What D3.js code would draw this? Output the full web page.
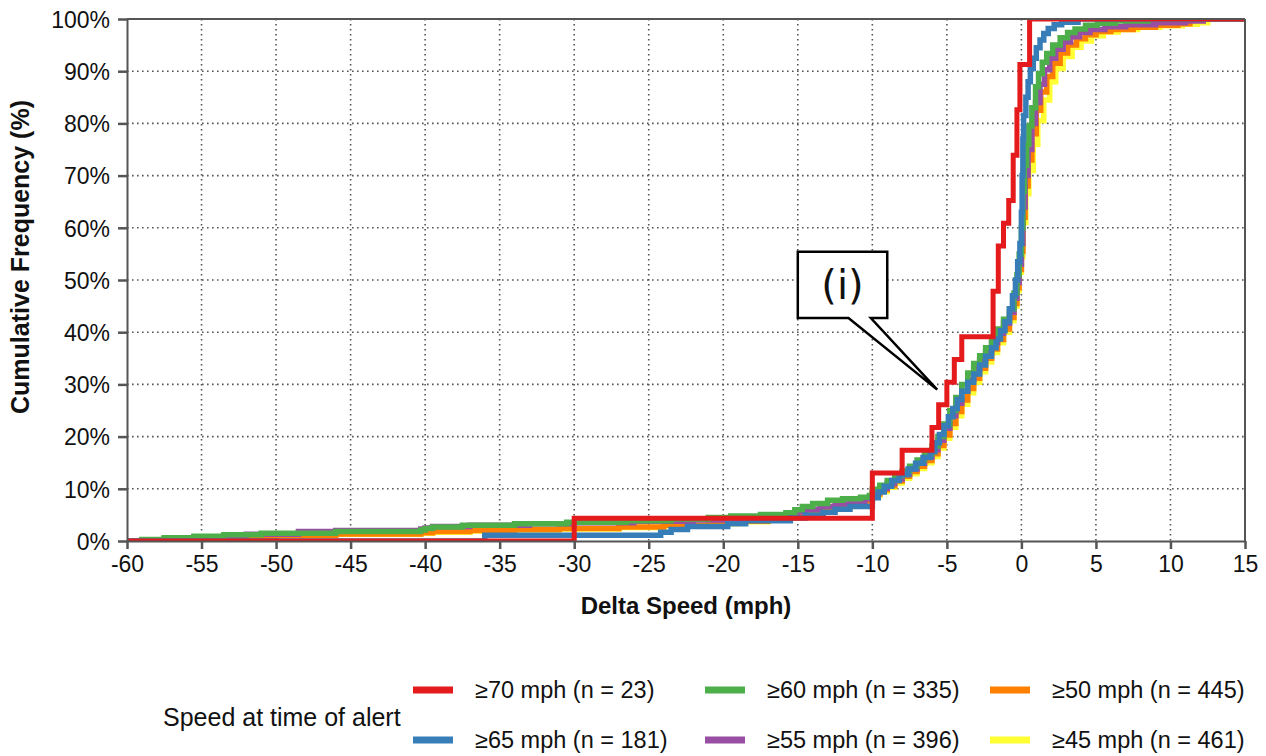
<!DOCTYPE html>
<html><head><meta charset="utf-8">
<script src="https://cdn.jsdelivr.net/npm/d3@7"></script>
<style>
html,body{margin:0;padding:0;background:#fff;}
svg text{font-family:"Liberation Sans",Arial,sans-serif;fill:#111;}
</style></head>
<body><svg id="chart" width="1266" height="756"></svg>
<script>
// ---------- data (x = delta speed mph, y = cumulative %) ----------
const xTicks = [-60,-55,-50,-45,-40,-35,-30,-25,-20,-15,-10,-5,0,5,10,15];
const yTicks = [0,10,20,30,40,50,60,70,80,90,100];

const s70 = [[-60,0],[-30,4.35],[-10,13.04],[-8,17.39],[-6,21.74],[-5.55,26.09],[-5,30.43],[-4.5,34.78],[-4,39.13],[-1.9,47.83],[-1.55,56.52],[-1.2,60.87],[-0.85,65.22],[-0.55,73.91],[-0.3,82.61],[-0.1,91.3],[0.55,100],[15,100]];

const s65 = [[-60,0],[-36,1.1],[-24.2,1.7],[-23.5,2.2],[-22.4,2.8],[-19.7,3.3],[-18.5,3.9],[-15.5,4.4],[-14.5,5.0],[-13.3,5.5],[-12.5,6.1],[-11.5,6.6],[-10,8.3],[-9.6,9.4],[-9.2,10.5],[-8.7,11.6],[-8.2,12.7],[-7.6,13.8],[-7.1,14.9],[-6.6,16.0],[-6.1,17.1],[-5.8,18.8],[-5.5,20.4],[-5.2,22.1],[-4.9,23.8],[-4.6,25.4],[-4.3,27.1],[-4.0,28.7],[-3.6,30.4],[-3.2,32.0],[-2.8,33.7],[-2.4,35.4],[-2.0,37.0],[-1.7,38.7],[-1.4,40.3],[-1.1,42],[-0.8,44.5],[-0.6,47],[-0.4,50],[-0.25,53.5],[-0.1,57],[0,63],[0.05,70],[0.1,77],[0.15,81.5],[0.3,85],[0.45,88],[0.6,90.5],[0.8,92.5],[1.0,94.5],[1.25,96],[1.5,97.2],[1.8,98.2],[2.2,98.9],[2.7,99.4],[3.8,100],[15,100]];

const s60 = [[-60,0],[-59,0.3],[-57.5,0.6],[-55.5,0.9],[-53.5,1.2],[-51,1.5],[-46,1.8],[-40.3,2.1],[-40,2.4],[-39.5,2.7],[-37.5,3.0],[-34,3.3],[-30.5,3.6],[-26.5,3.9],[-23.5,4.2],[-21,4.5],[-19.5,4.8],[-17.5,5.1],[-15.8,5.4],[-15.2,6.0],[-14.7,6.6],[-14,7.2],[-13,7.8],[-12,8.1],[-10.8,8.4],[-10.2,8.7],[-10,9.9],[-9.5,10.7],[-9,11.6],[-8.5,12.5],[-8,13.4],[-7.5,14.3],[-7,15.5],[-6.5,16.7],[-6,18.2],[-5.6,20],[-5.2,22.4],[-4.8,25],[-4.4,27.5],[-4,30],[-3.6,32.2],[-3.2,34],[-2.8,35.5],[-2.4,37],[-2,38.8],[-1.6,40.6],[-1.2,42.5],[-0.8,44.5],[-0.5,47.5],[-0.3,51],[-0.15,55],[0,60],[0.1,67],[0.2,72],[0.35,76],[0.5,79.5],[0.7,83],[0.95,87],[1.15,89.5],[1.4,91.7],[1.7,93.4],[2.1,95],[2.6,96.4],[3.1,97.4],[3.6,98.1],[4.3,98.8],[5.1,99.2],[6.3,99.6],[8.5,100],[15,100]];

const s55 = [[-60,0],[-59,0.25],[-57.5,0.5],[-55.5,0.8],[-53.5,1.0],[-52,1.3],[-48.5,1.8],[-46,2.0],[-40.3,2.3],[-40,2.5],[-39.5,2.8],[-37,3.0],[-33,3.3],[-30,3.5],[-26,3.8],[-22,4.0],[-19.5,4.3],[-17,4.6],[-15.5,5.0],[-15,5.6],[-14.5,6.1],[-13.5,6.6],[-12.5,7.1],[-11.5,7.6],[-10.5,8.1],[-10,9.3],[-9.5,10.1],[-9,11],[-8.5,11.9],[-8,12.8],[-7.5,13.8],[-7,14.9],[-6.5,16.1],[-6,17.5],[-5.6,19.3],[-5.2,21.6],[-4.8,24],[-4.4,26.4],[-4,28.8],[-3.6,31],[-3.2,33],[-2.8,34.7],[-2.4,36.3],[-2,38],[-1.6,39.8],[-1.2,41.7],[-0.8,43.8],[-0.5,46.5],[-0.3,49.5],[-0.15,53],[0,57],[0.1,64],[0.25,70],[0.45,75],[0.7,80],[0.95,84],[1.25,87.5],[1.55,90.3],[1.9,92.5],[2.3,94.2],[2.8,95.6],[3.3,96.6],[3.9,97.4],[4.6,98],[5.6,98.5],[7,98.9],[9,99.3],[11,99.6],[12.2,100],[15,100]];

const s50 = [[-60,0],[-59,0.2],[-57.5,0.45],[-55.5,0.7],[-53,0.9],[-50,1.1],[-46,1.35],[-40.3,1.6],[-39.5,1.8],[-37,2.0],[-34,2.2],[-31,2.4],[-27,2.7],[-24,3.0],[-21,3.4],[-19,3.8],[-17,4.3],[-15.5,4.7],[-15,5.3],[-14.3,5.8],[-13.3,6.3],[-12.3,6.8],[-11.3,7.3],[-10.4,7.8],[-10,9.0],[-9.5,9.8],[-9,10.6],[-8.5,11.5],[-8,12.4],[-7.5,13.3],[-7,14.3],[-6.5,15.4],[-6,16.7],[-5.6,18.3],[-5.2,20.3],[-4.8,22.5],[-4.4,24.8],[-4,27],[-3.6,29.2],[-3.2,31.2],[-2.8,33.1],[-2.4,35],[-2,36.8],[-1.6,38.6],[-1.2,40.6],[-0.8,42.8],[-0.5,45.5],[-0.3,48.5],[-0.15,52],[0,55.5],[0.1,62],[0.25,68],[0.45,73],[0.7,78],[1.0,82.5],[1.3,86],[1.7,89],[2.1,91.5],[2.6,93.5],[3.1,95],[3.7,96.2],[4.3,97],[5,97.6],[6,98],[7.5,98.4],[9,98.8],[10.5,99.1],[11.3,100],[15,100]];

const s45 = [[-60,0],[-59,0.2],[-57.5,0.4],[-55.5,0.65],[-53,0.85],[-50,1.05],[-46,1.3],[-40.3,1.5],[-39.5,1.7],[-37,1.9],[-34,2.1],[-31,2.3],[-27,2.6],[-24,2.9],[-21,3.3],[-19,3.7],[-17,4.1],[-15.5,4.5],[-15,5.1],[-14.3,5.6],[-13.3,6.1],[-12.3,6.6],[-11.3,7.1],[-10.4,7.6],[-10,8.7],[-9.5,9.5],[-9,10.3],[-8.5,11.1],[-8,12],[-7.5,12.9],[-7,13.9],[-6.5,15],[-6,16.2],[-5.6,17.8],[-5.2,19.7],[-4.8,21.8],[-4.4,24],[-4,26.2],[-3.6,28.4],[-3.2,30.4],[-2.8,32.4],[-2.4,34.3],[-2,36.1],[-1.6,38],[-1.2,40],[-0.8,42.2],[-0.5,45],[-0.3,48],[-0.15,51.5],[0,54.5],[0.1,61],[0.3,66.5],[0.5,71],[0.8,76],[1.1,80.5],[1.5,84.5],[1.9,88],[2.3,90.5],[2.8,92.8],[3.4,94.6],[4.0,95.8],[4.7,96.8],[5.5,97.5],[6.5,98],[7.8,98.4],[9.3,98.7],[10.8,99],[11.8,99.3],[12.5,100],[15,100]];

const seriesNames = ["\u226570 mph (n = 23)","\u226565 mph (n = 181)","\u226560 mph (n = 335)","\u226555 mph (n = 396)","\u226550 mph (n = 445)","\u226545 mph (n = 461)"];
const seriesData = [s70, s65, s60, s55, s50, s45];
const seriesColors = ["#e41a1c","#377eb8","#4daf4a","#984ea3","#ff7f00","#ffff33"];
const drawOrder = [5,4,3,2,1,0];

const calloutLabel = "(i)";
const calloutTip = [-5.65, 29];
const calloutBox = [-15, -9, 42.7, 55.4];   // x0, x1, y0, y1 in data units
const calloutBase = [-11.6, -10.1];

// ---------- chart ----------
const svg = d3.select("#chart");
const L = 127, R = 1245, T = 19, B = 541;
const x = d3.scaleLinear().domain([-60,15]).range([L,R]);
const y = d3.scaleLinear().domain([0,100]).range([B,T]);

// grid
const grid = svg.append("g");
grid.selectAll("line.v").data(xTicks.slice(1,-1)).join("line")
  .attr("x1",d=>x(d)).attr("x2",d=>x(d)).attr("y1",T).attr("y2",B)
  .attr("stroke","#555").attr("stroke-width",1.6).attr("stroke-dasharray","1.6,3.4");
grid.selectAll("line.h").data(yTicks.slice(1,-1)).join("line")
  .attr("y1",d=>y(d)).attr("y2",d=>y(d)).attr("x1",L).attr("x2",R)
  .attr("stroke","#555").attr("stroke-width",1.6).attr("stroke-dasharray","1.6,3.4");

// clip
svg.append("clipPath").attr("id","clip").append("rect")
  .attr("x",L).attr("y",T).attr("width",R-L).attr("height",B-T);

const line = d3.line().x(d=>x(d[0])).y(d=>y(d[1])).curve(d3.curveStepAfter);
const lines = svg.append("g").attr("clip-path","url(#clip)");
drawOrder.forEach(i=>{
  lines.append("path").attr("d",line(seriesData[i]))
    .attr("fill","none").attr("stroke",seriesColors[i])
    .attr("stroke-width", i===0 ? 5 : 5.5)
    .attr("stroke-linejoin","miter");
});

// frame
svg.append("line").attr("x1",L).attr("x2",R).attr("y1",T).attr("y2",T).attr("stroke","#555").attr("stroke-width",2);
svg.append("line").attr("x1",R).attr("x2",R).attr("y1",T).attr("y2",B).attr("stroke","#555").attr("stroke-width",2);

// axes
const yAxis = svg.append("g").attr("transform",`translate(${L},0)`)
  .call(d3.axisLeft(y).tickValues(yTicks).tickFormat(d=>d+"%").tickSize(9).tickPadding(8).tickSizeOuter(0));
const xAxis = svg.append("g").attr("transform",`translate(0,${B})`)
  .call(d3.axisBottom(x).tickValues(xTicks).tickFormat(d=>String(d)).tickSize(8).tickPadding(6).tickSizeOuter(0));
[yAxis,xAxis].forEach(a=>{
  a.select(".domain").attr("stroke","#555").attr("stroke-width",2);
  a.selectAll(".tick line").attr("stroke","#555").attr("stroke-width",2.5);
  a.selectAll(".tick text").attr("fill","#111").style("font-size","23px").style("font-family","Liberation Sans, Arial, sans-serif");
});
yAxis.selectAll(".tick text").attr("dy","0.36em");
xAxis.selectAll(".tick text").attr("dy","0.75em");

// axis titles
svg.append("text").attr("x",(L+R)/2).attr("y",614).attr("text-anchor","middle")
  .style("font-size","24px").style("font-weight","bold").text("Delta Speed (mph)");
svg.append("text").attr("transform",`translate(29,${(T+B)/2 - 23}) rotate(-90)`).attr("text-anchor","middle")
  .style("font-size","25px").style("font-weight","bold").text("Cumulative Frequency (%)");

// callout
const bx0 = x(calloutBox[0]), bx1 = x(calloutBox[1]), by0 = y(calloutBox[3]), by1 = y(calloutBox[2]);
const callPath = [[bx0,by0],[bx1,by0],[bx1,by1],[x(calloutBase[1]),by1],[x(calloutTip[0]),y(calloutTip[1])],[x(calloutBase[0]),by1],[bx0,by1]];
svg.append("path").attr("d","M"+callPath.map(p=>p.join(",")).join("L")+"Z")
  .attr("fill","#fff").attr("stroke","#000").attr("stroke-width",2.5).attr("stroke-linejoin","miter");
svg.append("text").attr("x",(bx0+bx1)/2).attr("y",(by0+by1)/2).attr("dy","0.35em").attr("text-anchor","middle")
  .style("font-size","40px").style("font-family","DejaVu Sans, sans-serif").text(calloutLabel);

// legend
svg.append("text").attr("x",163).attr("y",717).attr("dy","0.35em")
  .style("font-size","25px").text("Speed at time of alert");
const legCols = [413, 705, 990], legRows = [690, 740];
seriesNames.forEach((nm,i)=>{
  const cx = legCols[Math.floor(i/2)], cy = legRows[i%2];
  svg.append("line").attr("x1",cx).attr("x2",cx+40).attr("y1",cy).attr("y2",cy)
    .attr("stroke",seriesColors[i]).attr("stroke-width",7);
  svg.append("text").attr("x",cx+62).attr("y",cy).attr("dy","0.35em")
    .style("font-size","23.5px").text(nm);
});
</script></body></html>
